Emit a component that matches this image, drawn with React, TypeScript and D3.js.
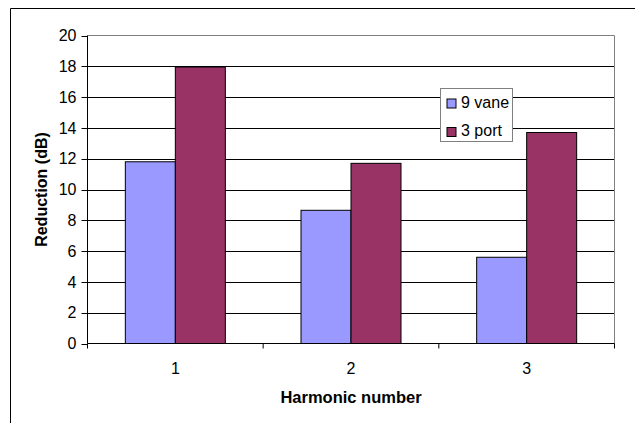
import React from "react";
import * as d3 from "d3";

const categories = ["1", "2", "3"];
const seriesNames = ["9 vane", "3 port"];
const vane9 = [11.8, 8.65, 5.6];
const port3 = [17.95, 11.7, 13.7];
const yTicks = [0, 2, 4, 6, 8, 10, 12, 14, 16, 18, 20];
const colors = ["#9999FF", "#993366"];

export default function App() {
  const W = 635, H = 423;
  const left = 87.5, right = 614.5, top = 35.5, bottom = 343.5;
  const x = d3.scaleBand<string>().domain(categories).range([left, right]);
  const y = d3.scaleLinear().domain([0, 20]).range([bottom, top]);
  const inner = d3.scaleBand<string>().domain(seriesNames).range([0, 100]);
  const series = [vane9, port3];
  const font = "Liberation Sans, Arial, sans-serif";
  return (
    <svg width={W} height={H} style={{ position: "absolute", left: 0, top: 0 }}>
      <rect x={0} y={0} width={W} height={H} fill="#fff" />
      <path d={`M10.5,${H} V8.5 H${W}`} fill="none" stroke="#000" strokeWidth={1} />
      {yTicks.map((t) => (
        <g key={t}>
          {t > 0 && t < 20 && (
            <line x1={left} x2={right} y1={Math.round(y(t)) + 0.5} y2={Math.round(y(t)) + 0.5} stroke="#000" />
          )}
          <line x1={left - 6} x2={left} y1={Math.round(y(t)) + 0.5} y2={Math.round(y(t)) + 0.5} stroke="#000" />
          <text x={left - 11} y={y(t)} dy="0.36em" textAnchor="end" fontFamily={font} fontSize={16} fill="#000">
            {t}
          </text>
        </g>
      ))}
      <path d={`M${left},${top} H${right} V${bottom}`} fill="none" stroke="#808080" />
      {categories.map((c, i) => {
        const cx = x(c)! + x.bandwidth() / 2;
        return (
          <g key={c}>
            {series.map((s, j) => (
              <rect
                key={j}
                x={cx - 50 + inner(seriesNames[j])!}
                y={y(s[i])}
                width={inner.bandwidth()}
                height={bottom - y(s[i])}
                fill={colors[j]}
                stroke="#000"
                strokeWidth={1}
              />
            ))}
            <text x={cx} y={373.5} textAnchor="middle" fontFamily={font} fontSize={16} fill="#000">
              {c}
            </text>
          </g>
        );
      })}
      <line x1={left} x2={left} y1={top} y2={bottom} stroke="#000" />
      <line x1={left} x2={right} y1={bottom} y2={bottom} stroke="#000" />
      {[...categories.map((c) => x(c)!), right].map((v, i) => (
        <line key={i} x1={v} x2={v} y1={bottom} y2={bottom + 5} stroke="#000" />
      ))}
      <text
        transform={`translate(41,${(top + bottom) / 2}) rotate(-90)`}
        textAnchor="middle"
        dy="0.35em"
        fontFamily={font}
        fontSize={16}
        fontWeight="bold"
        fill="#000"
      >
        Reduction (dB)
      </text>
      <text x={351} y={403} textAnchor="middle" fontFamily={font} fontSize={16.5} fontWeight="bold" fill="#000">
        Harmonic number
      </text>
      <rect x={440.5} y={88.5} width={72} height={53} fill="#fff" stroke="#808080" />
      {seriesNames.map((n, j) => (
        <g key={n}>
          <rect x={447} y={99 + j * 28.5} width={9} height={9} fill={colors[j]} stroke="#000" />
          <text x={461} y={107.5 + j * 28} fontFamily={font} fontSize={16} fill="#000">
            {n}
          </text>
        </g>
      ))}
    </svg>
  );
}
